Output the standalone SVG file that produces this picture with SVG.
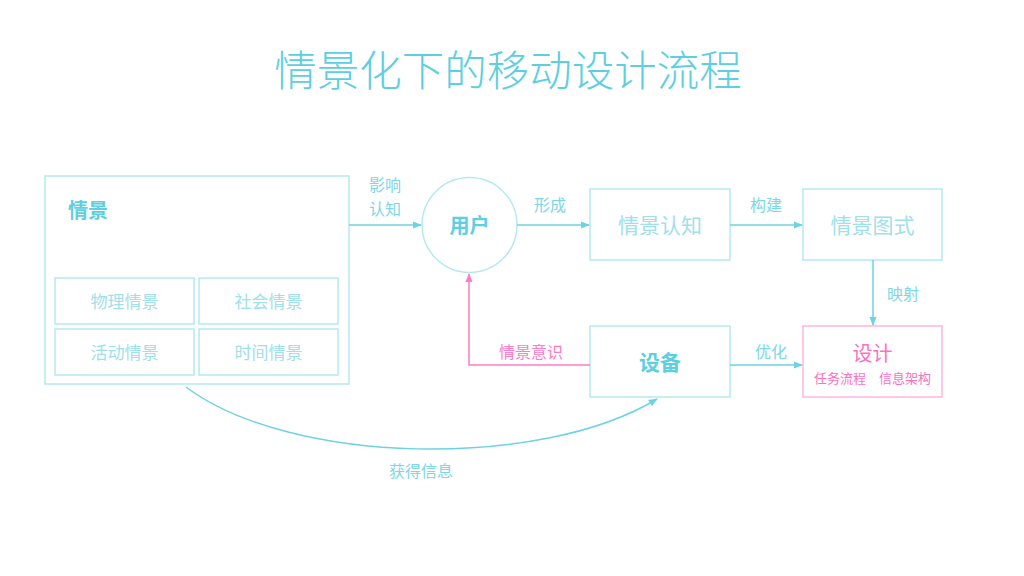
<svg xmlns="http://www.w3.org/2000/svg" width="1024" height="576" viewBox="0 0 1024 576">
<defs>
<style>
text{font-family:"Noto Sans CJK SC","Noto Sans",sans-serif;}
.box{fill:none;stroke:#b5e9f1;stroke-width:1.5;}
.pbox{fill:none;stroke:#ffb6df;stroke-width:1.5;}
.c{fill:#5ccfe0;}
.lc{fill:#9fe0ea;}
.p{fill:#ff6fbf;}
.line{fill:none;stroke:#6dd3e3;stroke-width:1.5;}
.pline{fill:none;stroke:#ff7cc6;stroke-width:1.5;}
.t{font-size:17px;text-anchor:middle;dominant-baseline:central;}
.big{font-size:21px;}
.lab{font-size:16px;text-anchor:middle;dominant-baseline:central;fill:#7dd7e6;}
</style>
<marker id="a" viewBox="0 0 10 10" refX="9" refY="5" markerWidth="6" markerHeight="6" orient="auto"><path d="M0,1 L10,5 L0,9 z" fill="#6dd3e3"/></marker>
<marker id="ap" viewBox="0 0 10 10" refX="9" refY="5" markerWidth="6" markerHeight="6" orient="auto"><path d="M0,1 L10,5 L0,9 z" fill="#ff7cc6"/></marker>
</defs>
<rect width="1024" height="576" fill="#fff"/>
<text x="508" y="67" class="c" style="font-size:42.5px" text-anchor="middle" dominant-baseline="central" font-weight="300">情景化下的移动设计流程</text>

<g id="qingjing">
<rect x="45" y="176" width="304" height="208" class="box"/>
<text x="68" y="209" class="c" style="font-size:20px;font-weight:bold" dominant-baseline="central">情景</text>
</g>
<g id="wuli"><rect x="55" y="278" width="139" height="46" class="box"/><text x="124.5" y="300" class="t lc">物理情景</text></g>
<g id="shehui"><rect x="199" y="278" width="139" height="46" class="box"/><text x="268.5" y="300" class="t lc">社会情景</text></g>
<g id="huodong"><rect x="55" y="329" width="139" height="46" class="box"/><text x="124.5" y="351" class="t lc">活动情景</text></g>
<g id="shijian"><rect x="199" y="329" width="139" height="46" class="box"/><text x="268.5" y="351" class="t lc">时间情景</text></g>

<g id="yonghu"><circle cx="469.5" cy="225" r="47.5" class="box"/><text x="469.5" y="224" class="t c" style="font-size:20px;font-weight:bold">用户</text></g>
<g id="renzhi"><rect x="590" y="189" width="140" height="71" class="box"/><text x="660" y="224" class="t lc big">情景认知</text></g>
<g id="tushi"><rect x="803" y="189" width="139" height="71" class="box"/><text x="872.5" y="224" class="t lc big">情景图式</text></g>
<g id="shebei"><rect x="590" y="326" width="140" height="71" class="box"/><text x="660" y="361" class="t c big" style="font-weight:bold">设备</text></g>
<g id="sheji"><rect x="803" y="326" width="139" height="71" class="pbox"/><text x="872.5" y="352" class="t p" style="font-size:20px">设计</text><text x="872.5" y="377" class="t p" style="font-size:13px">任务流程　信息架构</text></g>

<g id="connectors">
<path d="M349,225 H421" class="line" marker-end="url(#a)"/>
<path d="M517,225 H589" class="line" marker-end="url(#a)"/>
<path d="M730,225 H802" class="line" marker-end="url(#a)"/>
<path d="M873,260 V325" class="line" marker-end="url(#a)"/>
<path d="M730,365 H802" class="line" marker-end="url(#a)"/>
<path d="M590,365 H469 V274" class="pline" marker-end="url(#ap)"/>
<path d="M186,387 C290,465 540,470 657,399" class="line" marker-end="url(#a)"/>
<text x="385" y="184" class="lab">影响</text>
<text x="385" y="208" class="lab">认知</text>
<text x="550" y="204" class="lab">形成</text>
<text x="766" y="204" class="lab">构建</text>
<text x="903" y="293" class="lab">映射</text>
<text x="771" y="351" class="lab">优化</text>
<text x="531" y="351" class="lab" style="fill:#ff7cc6">情景意识</text>
<text x="421" y="470" class="lab">获得信息</text>
</g>
</svg>
